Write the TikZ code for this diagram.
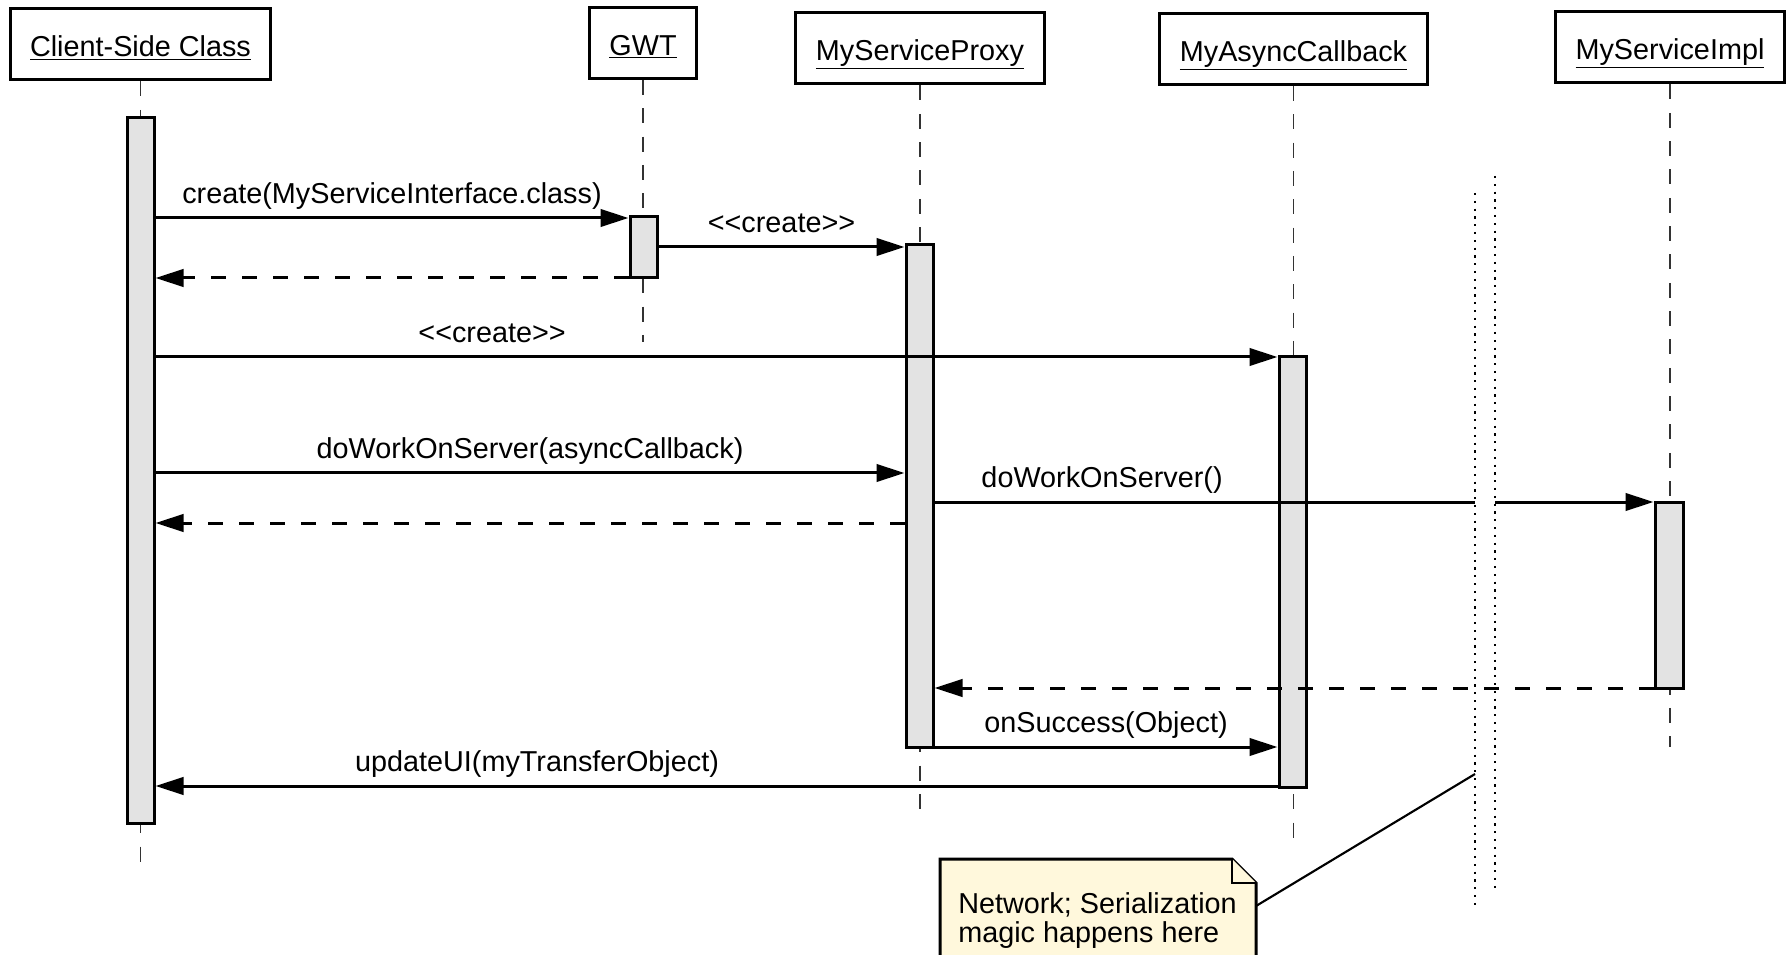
\documentclass[tikz,border=0pt]{standalone}
\usepackage{fontspec}
\setmainfont{Liberation Sans}
\usetikzlibrary{arrows.meta}
\usetikzlibrary{fit}

\definecolor{barfill}{RGB}{227,227,227}
\definecolor{notefill}{RGB}{255,248,220}

\tikzset{
  objbox/.style={draw, line width=2.25pt, fill=white, minimum height=53.25pt, inner xsep=15pt, inner ysep=0pt, text height=19pt, text depth=0.5pt, font=\fontsize{21.6}{26}\selectfont},
  lifeline/.style={line width=1.1pt, black!80, dash pattern=on 11.25pt off 10pt},
  actbar/.style={draw, line width=2.25pt, fill=barfill, inner sep=0pt},
  callmsg/.style={line width=2.25pt, -{Triangle[length=21pt,width=13pt]}},
  retmsg/.style={callmsg, dash pattern=on 11.25pt off 12pt},
  msglbl/.style={font=\fontsize{21.6}{26}\selectfont, anchor=south, inner xsep=0pt, inner ysep=9.5pt, text height=15pt, text depth=0pt},
  netline/.style={line width=1.6pt, dash pattern=on 1.6pt off 4.25pt},
}

\begin{document}
\begin{tikzpicture}[x=0.75pt,y=0.75pt,yscale=-1,xscale=1]
\useasboundingbox (0,0) rectangle (1789,955);

% Objects
\node[objbox] (hClient) at (140.5,44.5) {\underline{Client-Side Class}};
\node[objbox] (hGwt) at (643,43) {\underline{GWT}};
\node[objbox] (hProxy) at (920,48.5) {\underline{MyServiceProxy}};
\node[objbox] (hCb) at (1293.5,49) {\underline{MyAsyncCallback}};
\node[objbox] (hImpl) at (1670,47.5) {\underline{MyServiceImpl}};

% Lifelines
\foreach \obj/\bottom in {hClient/867,hGwt/342,hProxy/810,hCb/842,hImpl/747}
  \draw[lifeline] (\obj.south) -- (\obj.south |- 0,\bottom);

% Network boundary
\coordinate (netL) at (1475,193);
\coordinate (netR) at (1495,176);
\draw[netline] (netL) -- (netL |- 0,908);
\draw[netline] (netR) -- (netR |- 0,890);

% Activation bars
\node[actbar, fit={(127,118) (154,823)}] (aClient) {};
\node[actbar, fit={(630,217) (657,278)}] (aGwt) {};
\node[actbar, fit={(906,245) (933,747)}] (aProxy) {};
\node[actbar, fit={(1279,357) (1306,787)}] (aCb) {};
\node[actbar, fit={(1655,502) (1683,688)}] (aImpl) {};

% Messages
\draw[callmsg] (aClient.east |- 0,218) -- (aGwt.west |- 0,218) node[msglbl, midway] {create(MyServiceInterface.class)};
\draw[retmsg] (aGwt.west |- 0,278) -- (aClient.east |- 0,278);
\draw[callmsg] (aGwt.east |- 0,247) -- (aProxy.west |- 0,247) node[msglbl, midway] {<\kern0pt<create>\kern0pt>};
\draw[callmsg] (aClient.east |- 0,357) -- (aCb.west |- 0,357) node[msglbl, pos=0.3] {<\kern0pt<create>\kern0pt>};
\draw[callmsg] (aClient.east |- 0,473) -- (aProxy.west |- 0,473) node[msglbl, midway] {doWorkOnServer(asyncCallback)};
\draw[retmsg] (aProxy.west |- 0,523) -- (aClient.east |- 0,523);
\draw[line width=2.25pt] (aProxy.east |- 0,502) -- (netL |- 0,502) node[msglbl, pos=0.31] {doWorkOnServer()};
\draw[callmsg] (netR |- 0,502) -- (aImpl.west |- 0,502);
\draw[retmsg] (aImpl.west |- 0,688) -- (aProxy.east |- 0,688);
\draw[callmsg] (aProxy.east |- 0,747) -- (aCb.west |- 0,747) node[msglbl, midway] {onSuccess(Object)};
\draw[callmsg] (aCb.west |- 0,786) -- (aClient.east |- 0,786) node[msglbl, pos=0.66] {updateUI(myTransferObject)};

% Note
\draw[line width=2.25pt, fill=notefill] (940,859) -- (1232,859) -- (1256,883) -- (1256,970) -- (940,970) -- cycle;
\draw[line width=1.5pt, fill=notefill] (1232,859) -- (1232,883) -- (1256,883);
\node[anchor=base west, align=left, inner sep=0pt, font=\fontsize{21.6}{21.75}\selectfont] (note) at (958,942) {Network; Serialization\\magic happens here};
\coordinate (noteR) at (1256,906);
\draw[line width=1.6pt] (noteR) -- (netL |- 0,774);

\end{tikzpicture}
\end{document}
